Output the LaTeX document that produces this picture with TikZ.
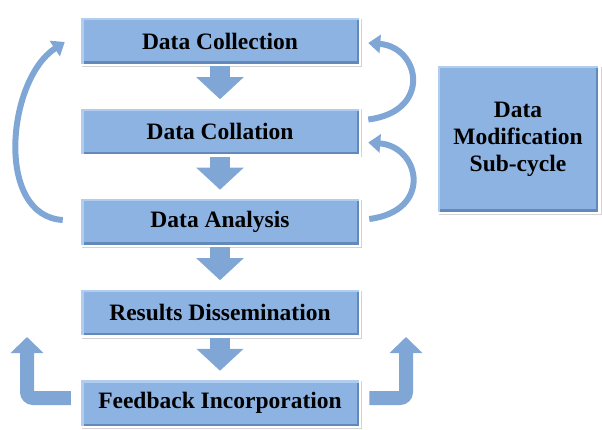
\documentclass[tikz,border=0pt]{standalone}
\usepackage{fontspec}
\setmainfont{Liberation Serif}
\usetikzlibrary{arrows.meta,positioning,shadows}

\definecolor{boxblue}{RGB}{141,179,226}
\definecolor{boxdark}{RGB}{98,136,188}
\definecolor{boxlight}{RGB}{176,204,238}
\definecolor{arrowblue}{RGB}{128,166,214}

\begin{document}
\begin{tikzpicture}[x=1pt, y=-1pt,
	basic/.style  = {draw=white, line width=2.5pt, fill=boxblue, rectangle, inner sep=0pt,
		drop shadow={opacity=0.35, shadow xshift=2pt, shadow yshift=-2pt},
		path picture={
			\draw[boxdark, line width=7pt] (path picture bounding box.south west) -- (path picture bounding box.south east) -- (path picture bounding box.north east);
			\draw[boxlight, line width=7pt] (path picture bounding box.south west) -- (path picture bounding box.north west) -- (path picture bounding box.north east);},
		font=\fontsize{23.5}{27}\selectfont\bfseries, align=center},
	stage/.style  = {basic, minimum width=280pt, minimum height=48pt},
	subcycle/.style = {basic, minimum width=163pt, minimum height=148pt},
	flow/.style   = {line width=20pt, arrowblue, -{Triangle[width=46pt,length=22pt]}},
	loop/.style   = {line width=6pt, arrowblue, -{Triangle[width=18pt,length=12pt]}},
	back/.style   = {line width=14pt, arrowblue, rounded corners=6pt, -{Triangle[width=32pt,length=16pt]}},
	node distance=40pt]

	\useasboundingbox (0,0) rectangle (602,430);

	% Main stages, one below the other
	\node[stage] (s1) at (220,41) {Data Collection};
	\node[stage, below=of s1] (s2) {Data Collation};
	\node[stage, below=of s2] (s3) {Data Analysis};
	\node[stage, below=of s3] (s4) {Results Dissemination};
	\node[stage, below=of s4] (s5) {Feedback Incorporation};

	% Side box
	\node[subcycle] (sub) at (518,139) {Data\\Modification\\Sub-cycle};

	% Block arrows between the stages
	\foreach \from/\to in {s1/s2, s2/s3, s3/s4, s4/s5}
	\draw[flow] (\from.south) -- ([yshift=7pt]\to.north);

	% Loops back to earlier stages
	\draw[loop] ([xshift=-16pt, yshift=2pt]s3.west) .. controls +(-68,-4) and +(-58,38) .. ([xshift=-14pt, yshift=-1pt]s1.west);
	\draw[loop] ([xshift=7pt, yshift=12pt]s2.east) .. controls +(64,-8) and +(52,4) .. ([xshift=7pt, yshift=-2pt]s1.east);
	\draw[loop] ([xshift=8pt, yshift=3pt]s3.east) .. controls +(64,-8) and +(52,4) .. ([xshift=7pt, yshift=-11pt]s2.east);

	% Feedback going up on both sides
	\coordinate (fl) at (27,337);
	\coordinate (fr) at (406,337);
	\draw[back] ([xshift=-8pt, yshift=5pt]s5.west) -| (fl);
	\draw[back] ([xshift=8pt, yshift=5pt]s5.east) -| (fr);

\end{tikzpicture}
\end{document}
